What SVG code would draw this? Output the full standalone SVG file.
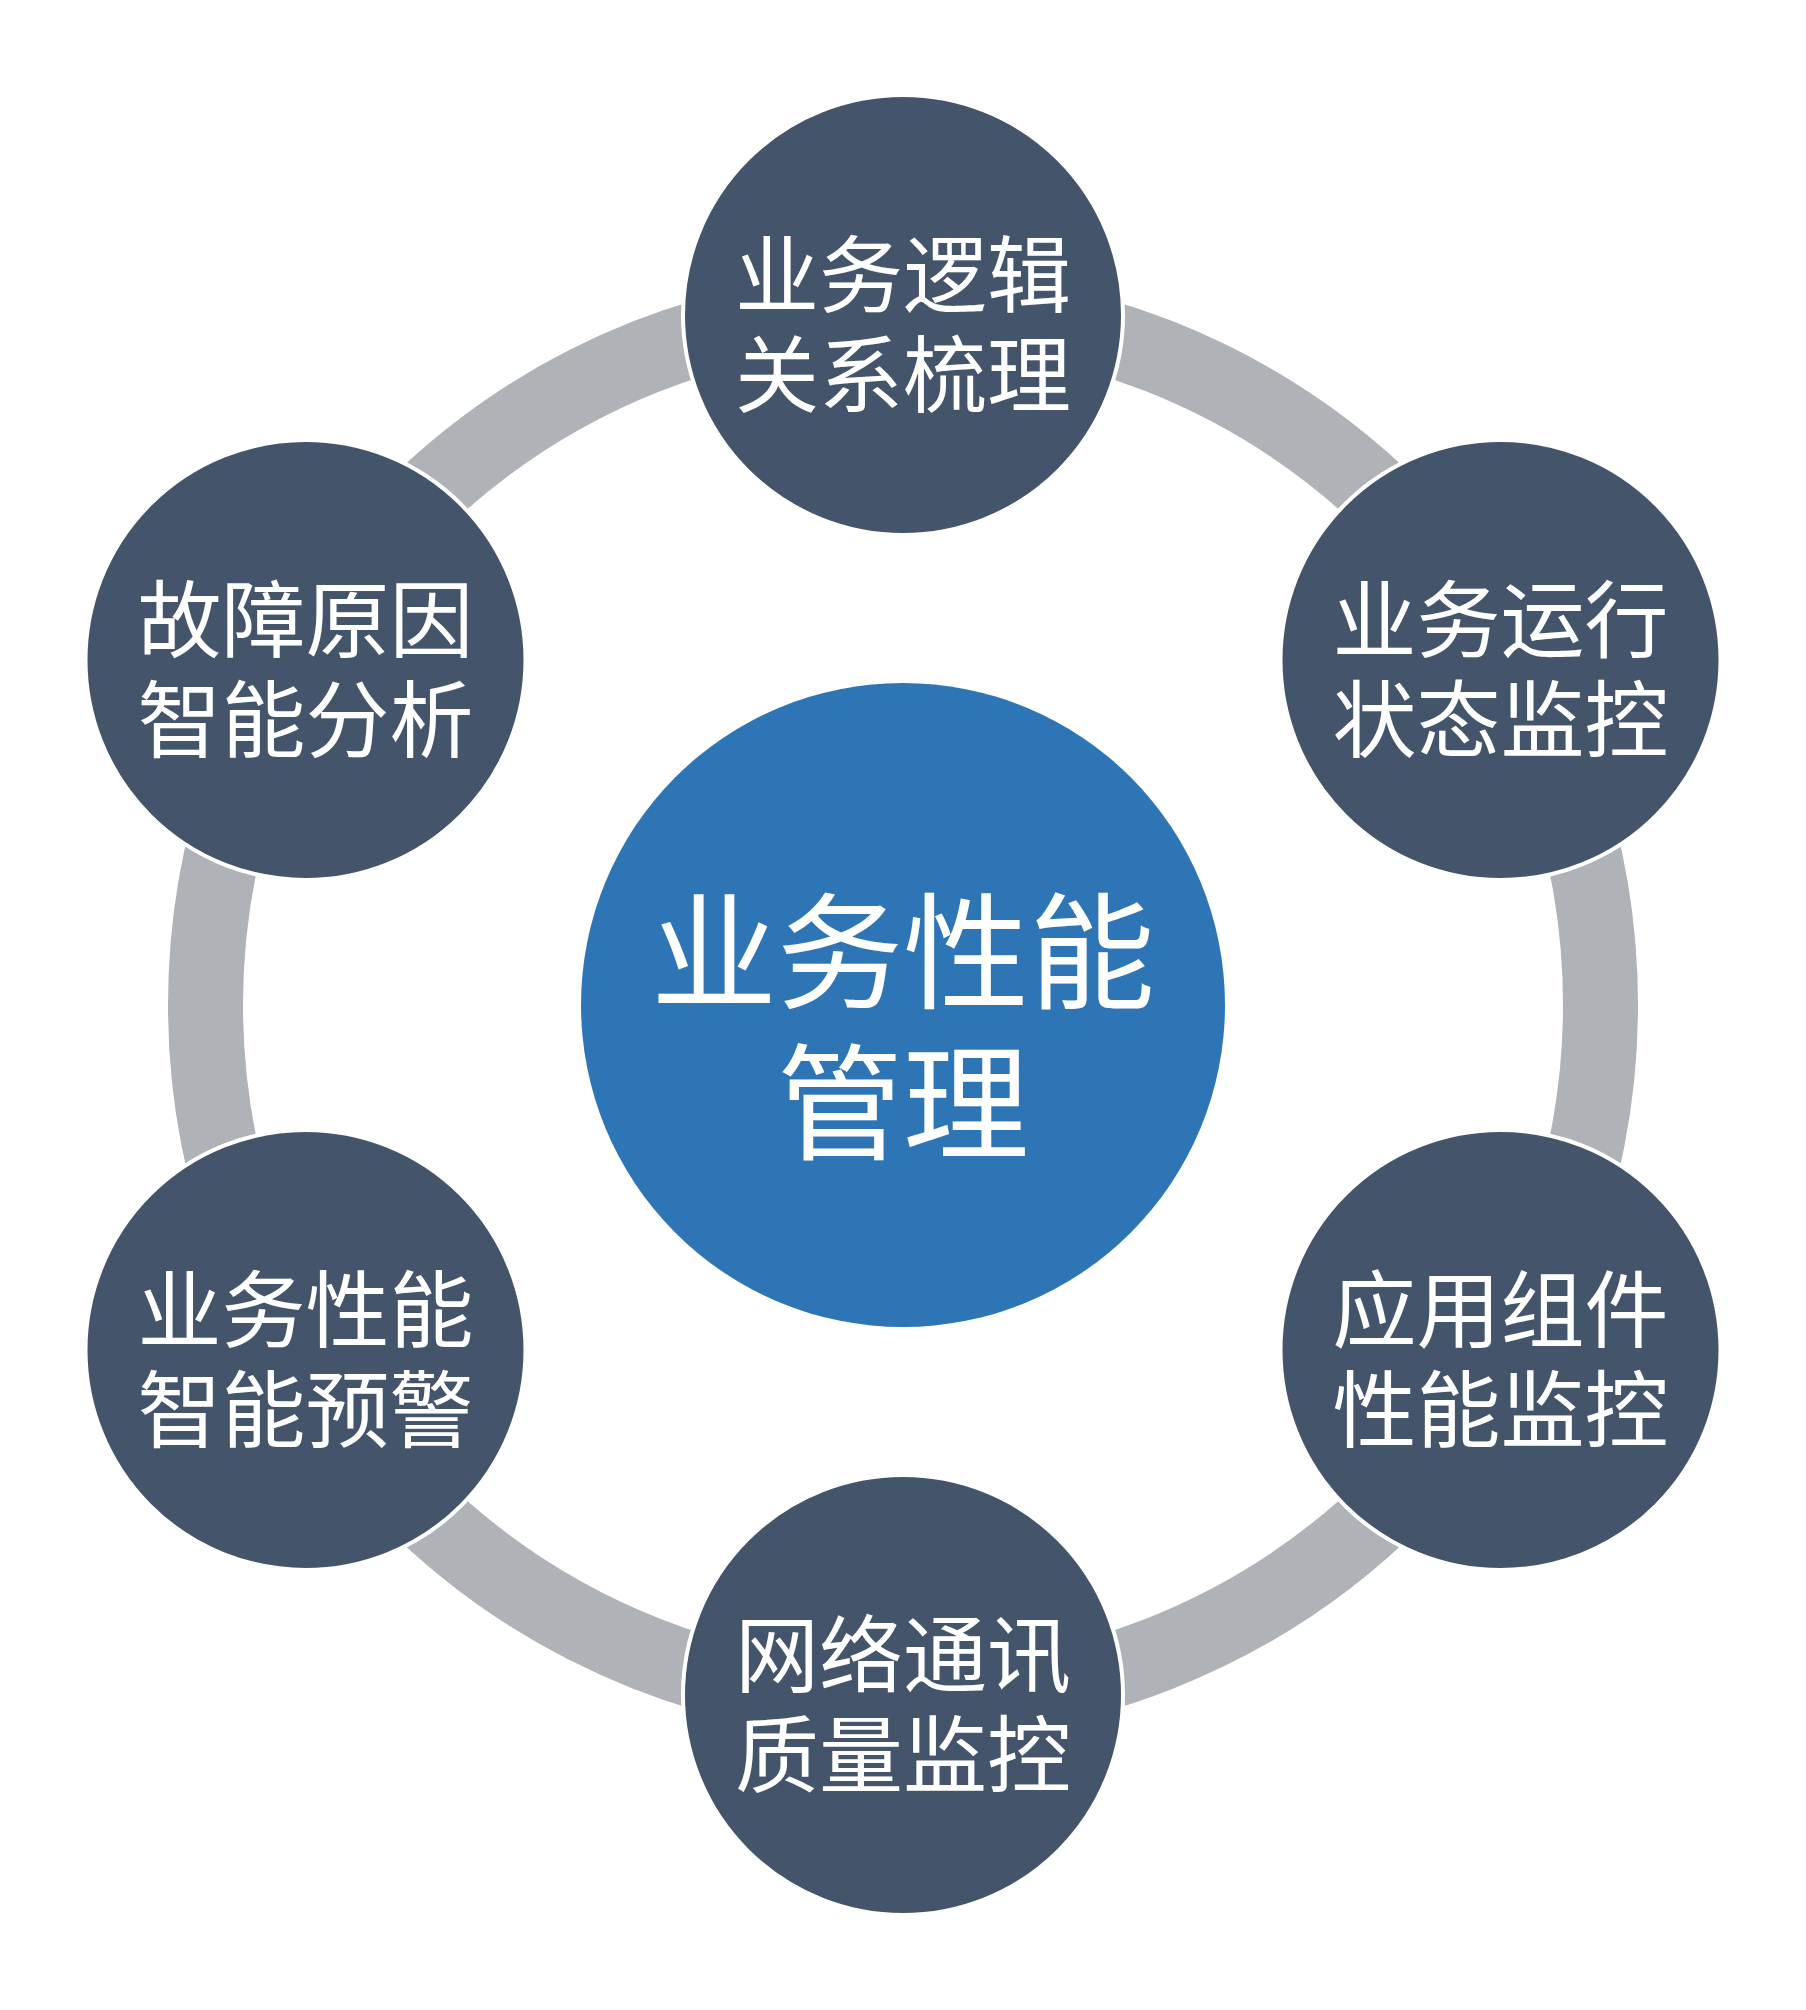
<svg xmlns="http://www.w3.org/2000/svg" width="1806" height="2010" viewBox="0 0 1806 2010">
  <style>
    .ring { fill: none; stroke: #AFB2B7; stroke-width: 75; }
    .node { fill: #44546A; stroke: #FFFFFF; stroke-width: 4; }
    .hub { fill: #2E75B6; }
    .lbl { font-family: "Noto Sans CJK SC", "Noto Sans", sans-serif; font-size: 84px; fill: #FFFFFF; text-anchor: middle; }
    .hublbl { font-family: "Noto Sans CJK SC", "Noto Sans", sans-serif; font-size: 126px; fill: #FFFFFF; text-anchor: middle; }
  </style>
  <rect width="1806" height="2010" fill="#FFFFFF"/>
  <g id="connectors">
    <circle class="ring" cx="903" cy="1005" r="697.5"/>
  </g>
  <g id="hub">
    <circle class="hub" cx="903" cy="1005" r="322"/>
    <text class="hublbl"><tspan x="903" y="999">业务性能</tspan><tspan x="903" y="1150">管理</tspan></text>
  </g>
  <g id="node-top">
    <circle class="node" cx="903" cy="315" r="220"/>
    <text class="lbl"><tspan x="903" y="306">业务逻辑</tspan><tspan x="903" y="406">关系梳理</tspan></text>
  </g>
  <g id="node-top-right">
    <circle class="node" cx="1500.5" cy="660" r="220"/>
    <text class="lbl"><tspan x="1500.5" y="651">业务运行</tspan><tspan x="1500.5" y="751">状态监控</tspan></text>
  </g>
  <g id="node-bottom-right">
    <circle class="node" cx="1500.5" cy="1350" r="220"/>
    <text class="lbl"><tspan x="1500.5" y="1341">应用组件</tspan><tspan x="1500.5" y="1441">性能监控</tspan></text>
  </g>
  <g id="node-bottom">
    <circle class="node" cx="903" cy="1695" r="220"/>
    <text class="lbl"><tspan x="903" y="1686">网络通讯</tspan><tspan x="903" y="1786">质量监控</tspan></text>
  </g>
  <g id="node-bottom-left">
    <circle class="node" cx="305.5" cy="1350" r="220"/>
    <text class="lbl"><tspan x="305.5" y="1341">业务性能</tspan><tspan x="305.5" y="1441">智能预警</tspan></text>
  </g>
  <g id="node-top-left">
    <circle class="node" cx="305.5" cy="660" r="220"/>
    <text class="lbl"><tspan x="305.5" y="651">故障原因</tspan><tspan x="305.5" y="751">智能分析</tspan></text>
  </g>
</svg>
